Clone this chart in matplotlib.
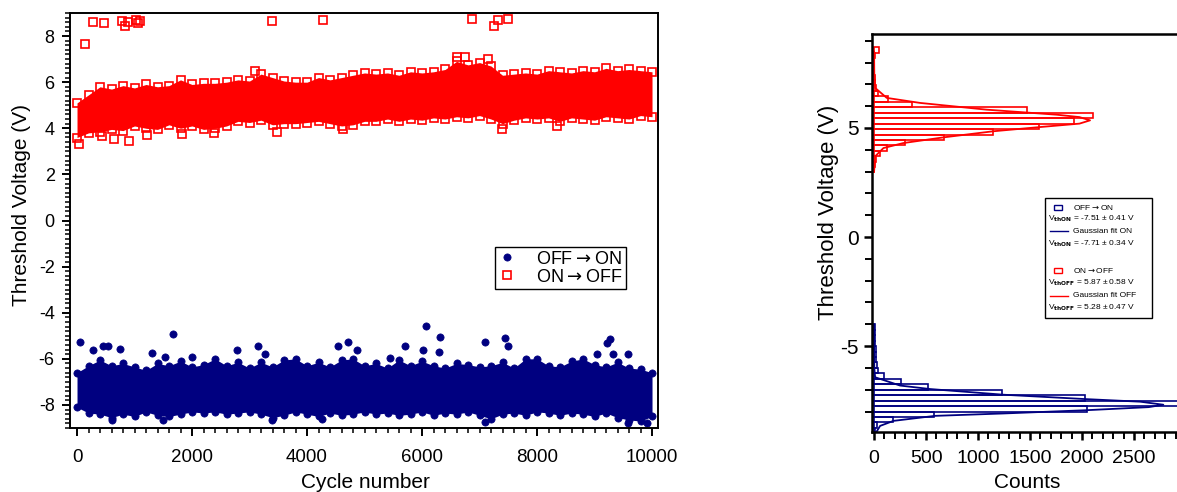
import matplotlib
matplotlib.use('Agg')
import matplotlib.pyplot as plt
from matplotlib.patches import Rectangle
from matplotlib.ticker import MultipleLocator

plt.rcParams['font.family'] = ['Liberation Sans', 'DejaVu Sans']
plt.rcParams['axes.unicode_minus'] = False

RED = '#ff0000'
NAVY = '#000080'

# ---- left panel: switching cycles ----
# cycle numbers at which the edges of the dense clouds were read
cycles = list(range(0, 10001, 200))

# ON -> OFF cloud, upper / lower edge (V)
off_top = [5.10, 5.45, 5.80, 5.70, 5.85, 5.75, 5.90, 5.80, 5.85, 6.10,
           5.90, 5.95, 5.95, 6.00, 6.10, 6.05, 6.35, 6.20, 6.05, 6.00,
           6.00, 6.20, 6.10, 6.20, 6.30, 6.40, 6.35, 6.40, 6.30, 6.45,
           6.40, 6.45, 6.55, 6.90, 6.75, 6.85, 6.70, 6.30, 6.35, 6.40,
           6.35, 6.50, 6.45, 6.40, 6.50, 6.45, 6.60, 6.50, 6.55, 6.50, 6.45]
off_bot = [3.60, 3.80, 3.85, 3.95, 3.90, 4.10, 4.00, 3.95, 4.15, 4.00,
           4.10, 3.95, 4.00, 4.10, 4.30, 4.25, 4.35, 4.15, 4.20, 4.20,
           4.25, 4.30, 4.20, 4.10, 4.15, 4.30, 4.30, 4.40, 4.30, 4.40,
           4.35, 4.45, 4.40, 4.50, 4.45, 4.55, 4.40, 4.20, 4.35, 4.45,
           4.40, 4.45, 4.30, 4.45, 4.40, 4.35, 4.50, 4.45, 4.40, 4.55, 4.50]

# OFF -> ON cloud, upper / lower edge (V)
on_top = [-6.60, -6.30, -6.05, -6.30, -6.20, -6.35, -6.50, -6.20, -6.30, -6.10,
          -6.35, -6.25, -6.00, -6.30, -6.15, -6.40, -6.15, -6.35, -6.05, -6.00,
          -6.30, -6.15, -6.35, -6.05, -6.00, -6.30, -6.20, -6.40, -6.05, -6.30,
          -6.10, -6.30, -6.40, -6.20, -6.25, -6.35, -6.30, -6.15, -6.40, -6.00,
          -6.00, -6.30, -6.35, -6.10, -6.00, -6.25, -6.35, -6.15, -6.40, -6.45, -6.60]
on_bot = [-8.10, -8.35, -8.40, -8.55, -8.40, -8.50, -8.30, -8.45, -8.50, -8.40,
          -8.30, -8.35, -8.30, -8.40, -8.35, -8.30, -8.40, -8.55, -8.45, -8.30,
          -8.40, -8.50, -8.35, -8.45, -8.40, -8.30, -8.40, -8.35, -8.45, -8.40,
          -8.30, -8.45, -8.35, -8.40, -8.30, -8.45, -8.60, -8.40, -8.35, -8.45,
          -8.30, -8.35, -8.45, -8.35, -8.40, -8.50, -8.35, -8.55, -8.65, -8.70, -8.50]

# isolated points outside the clouds
off_out_cyc = [140, 270, 470, 780, 835, 880, 1030, 1060, 1090, 3390, 4280,
               6870, 7250, 7320, 7500, 3100, 6600, 6750, 7150,
               40, 440, 650, 900, 1215, 1825, 2380, 3470, 4620, 7390, 8350]
off_out_v = [7.65, 8.62, 8.57, 8.65, 8.45, 8.60, 8.68, 8.55, 8.66, 8.67, 8.71,
             8.74, 8.42, 8.70, 8.72, 6.50, 7.10, 7.10, 7.00,
             3.30, 3.65, 3.55, 3.45, 3.70, 3.75, 3.80, 3.83, 3.95, 3.96, 4.10]

on_out_cyc = [50, 280, 455, 540, 750, 1300, 1530, 1670, 2000, 2780, 3150,
              3270, 4540, 4720, 4870, 5440, 5700, 6020, 6070, 6310, 6300,
              7100, 7440, 7500, 9040, 9220, 9270, 9330, 9580,
              605, 1500, 3390, 4260, 7100, 9580, 9910]
on_out_v = [-5.25, -5.60, -5.43, -5.43, -5.57, -5.75, -5.90, -4.91, -5.92, -5.60,
            -5.46, -5.80, -5.43, -5.25, -5.60, -5.95, -5.46, -5.60, -4.57, -5.07,
            -5.70, -5.29, -5.10, -5.45, -5.80, -5.30, -5.15, -5.80, -5.80,
            -8.65, -8.65, -8.65, -8.60, -8.72, -8.80, -8.80]

# ---- right panel: histograms (0.25 V bins, lower edges) ----
off_bins = [2.95, 3.20, 3.45, 3.70, 3.95, 4.20, 4.45, 4.70, 4.95, 5.20, 5.45,
            5.70, 5.95, 6.20, 6.45, 6.70, 6.95, 7.20, 7.45, 7.70, 7.95, 8.20, 8.45]
off_counts = [3, 8, 20, 58, 122, 300, 673, 1147, 1590, 1925, 2105,
              1467, 362, 130, 42, 20, 10, 5, 3, 2, 2, 10, 50]

on_bins = [-9.00, -8.75, -8.50, -8.25, -8.00, -7.75, -7.50, -7.25, -7.00, -6.75,
           -6.50, -6.25, -6.00, -5.75, -5.50, -5.25, -5.00, -4.75, -4.50, -4.25]
on_counts = [8, 25, 180, 578, 2045, 3000, 2029, 1228, 522, 256,
             92, 42, 28, 22, 18, 15, 12, 10, 8, 5]

# gaussian fit curves
off_fit_v = [3.00, 3.70, 4.08, 4.31, 4.57, 4.85, 5.03, 5.20, 5.35, 5.50,
             5.61, 5.84, 6.15, 6.38, 6.84, 7.50, 8.50]
off_fit_counts = [0, 10, 90, 282, 667, 1147, 1564, 1975, 2077, 1975,
                  1756, 1083, 442, 122, 10, 2, 0]

on_fit_v = [-8.96, -8.66, -8.43, -8.20, -8.09, -7.94, -7.80, -7.69, -7.55,
            -7.43, -7.23, -6.97, -6.81, -6.43, -6.00, -5.00, -4.00]
on_fit_counts = [20, 58, 186, 586, 1244, 2045, 2640, 2782, 2560,
                 2029, 1244, 538, 250, 10, 2, 0, 0]

ARROW = r'$\rightarrow$'


def style_axes(ax, lw):
    for s in ax.spines.values():
        s.set_linewidth(lw)
    ax.tick_params(which='both', direction='out', top=False, right=False)


fig = plt.figure(figsize=(11.77, 4.92), dpi=100)

# left panel
ax1 = fig.add_axes([70 / 1177, 1 - 428 / 492, 588 / 1177, 415 / 492])
style_axes(ax1, 1.4)
ax1.fill_between(cycles, off_bot, off_top, color=RED, lw=0)
ax1.fill_between(cycles, on_bot, on_top, color=NAVY, lw=0)
sq = dict(ls='none', marker='s', ms=6, mfc='none', mec=RED, mew=1.2)
dot = dict(ls='none', marker='o', ms=5.2, mfc=NAVY, mec=NAVY, mew=0.5)
ax1.plot(cycles, off_top, **sq)
ax1.plot(cycles, off_bot, **sq)
h_off, = ax1.plot(off_out_cyc, off_out_v, **sq)
ax1.plot(cycles, on_top, **dot)
ax1.plot(cycles, on_bot, **dot)
h_on, = ax1.plot(on_out_cyc, on_out_v, **dot)

ax1.set_xlim(-122, 10104)
ax1.set_ylim(-9, 9)
ax1.xaxis.set_major_locator(MultipleLocator(2000))
ax1.xaxis.set_minor_locator(MultipleLocator(200))
ax1.yaxis.set_major_locator(MultipleLocator(2))
ax1.yaxis.set_minor_locator(MultipleLocator(0.2))
ax1.tick_params(which='major', length=6, width=1.4, labelsize=13, pad=5)
ax1.tick_params(axis='x', which='major', labelsize=13.5, pad=9)
ax1.tick_params(which='minor', length=3.5, width=1.1)
ax1.set_xlabel('Cycle number', fontsize=15)
ax1.xaxis.set_label_coords(0.502, -0.108)
ax1.set_ylabel('Threshold Voltage (V)', fontsize=15, va='center')
ax1.yaxis.set_label_coords(-0.082, 0.537)
leg = ax1.legend([h_on, h_off],
                 ['OFF' + ARROW + 'ON', 'ON' + ARROW + 'OFF'],
                 loc='upper right', bbox_to_anchor=(0.946, 0.436),
                 borderaxespad=0, fancybox=False, fontsize=13,
                 handlelength=1.0, handletextpad=1.1, borderpad=0.2,
                 labelspacing=0.05, framealpha=1)
leg.get_frame().set_edgecolor('black')
leg.get_frame().set_linewidth(1.0)

# right panel
ax2 = fig.add_axes([872 / 1177, 1 - 432 / 492, 314 / 1177, 398 / 492])
style_axes(ax2, 1.8)
ax2.spines['right'].set_visible(False)
ax2.barh(off_bins, off_counts, height=0.25, align='edge', fill=False,
         edgecolor=RED, linewidth=1.2)
ax2.barh(on_bins, on_counts, height=0.25, align='edge', fill=False,
         edgecolor=NAVY, linewidth=1.2)
ax2.plot(off_fit_counts, off_fit_v, color=RED, lw=1.3)
ax2.plot(on_fit_counts, on_fit_v, color=NAVY, lw=1.3)
ax2.set_xlim(-20, 3000)
ax2.set_ylim(-8.94, 9.31)
ax2.set_xticks([0, 500, 1000, 1500, 2000, 2500])
ax2.xaxis.set_minor_locator(MultipleLocator(100))
ax2.yaxis.set_major_locator(MultipleLocator(5))
ax2.yaxis.set_minor_locator(MultipleLocator(1))
ax2.tick_params(which='major', length=6, width=1.8, labelsize=14)
ax2.tick_params(axis='x', which='major', pad=7)
ax2.tick_params(axis='y', which='major', labelsize=15)
ax2.tick_params(which='minor', length=5, width=1.4)
ax2.set_xlabel('Counts', fontsize=15)
ax2.xaxis.set_label_coords(0.494, -0.104)
ax2.set_ylabel('Threshold Voltage (V)', fontsize=16, va='center')
ax2.yaxis.set_label_coords(-0.14, 0.553)

# small legend box of the histogram panel
tr = ax2.transAxes
ax2.add_patch(Rectangle((0.551, 0.286), 0.341, 0.302, transform=tr,
                        fill=True, facecolor='white', edgecolor='black',
                        lw=1.0, zorder=5))
fs = 6
rows = [
    (0.565, 'box', NAVY, 'OFF' + ARROW + 'ON'),
    (0.535, None, None, 'V$_{\\mathbf{thON}}$ = -7.51 \u00b1 0.41 V'),
    (0.505, 'line', NAVY, 'Gaussian fit ON'),
    (0.472, None, None, 'V$_{\\mathbf{thON}}$ = -7.71 \u00b1 0.34 V'),
    (0.406, 'box', RED, 'ON' + ARROW + 'OFF'),
    (0.374, None, None, 'V$_{\\mathbf{thOFF}}$ = 5.87 \u00b1 0.58 V'),
    (0.342, 'line', RED, 'Gaussian fit OFF'),
    (0.312, None, None, 'V$_{\\mathbf{thOFF}}$ = 5.28 \u00b1 0.47 V'),
]
for y, kind, col, txt in rows:
    if kind is None:
        ax2.text(0.561, y, txt, transform=tr, fontsize=fs, va='center',
                 ha='left', zorder=6)
        continue
    if kind == 'box':
        ax2.add_patch(Rectangle((0.580, y - 0.006), 0.026, 0.012,
                                transform=tr, fill=False, edgecolor=col,
                                lw=1.0, zorder=6))
    else:
        ax2.plot([0.567, 0.624], [y, y], transform=tr, color=col, lw=1.0,
                 zorder=6)
    ax2.text(0.640, y, txt, transform=tr, fontsize=fs, va='center',
             ha='left', zorder=6)

fig.savefig('out.png', dpi=100)
